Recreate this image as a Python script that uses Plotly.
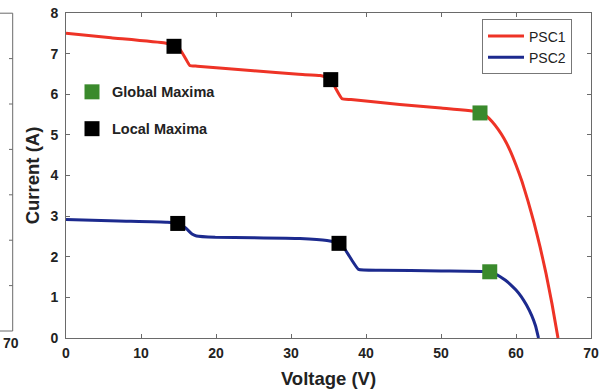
import plotly.graph_objects as go

# ---- data ----
psc1_v = [0, 6.0, 13.2, 14.4, 15.2, 16.0, 16.5, 17.5, 25.0, 31.0, 33.9, 35.3, 36.0, 36.8, 38.0, 44.5, 50.0,
          55.2, 56.0, 56.8, 57.6, 58.4, 59.2, 60.0, 60.8, 61.6, 62.4, 63.2, 64.0, 64.8, 65.6]
psc1_i = [7.50, 7.39, 7.26, 7.20, 7.10, 6.86, 6.71, 6.69, 6.58, 6.49, 6.46, 6.38, 6.13, 5.89, 5.87, 5.75, 5.66,
          5.56, 5.47, 5.33, 5.14, 4.91, 4.62, 4.26, 3.85, 3.37, 2.84, 2.25, 1.59, 0.84, 0.0]

psc2_v = [0, 7.0, 13.5, 14.9, 16.0, 16.8, 17.4, 19.9, 25.0, 31.2, 34.8, 36.4, 37.2, 38.1, 39.0, 41.9, 50.0,
          56.5, 57.2, 57.9, 58.6, 59.3, 60.0, 60.7, 61.4, 62.1, 62.6, 63.0]
psc2_i = [2.92, 2.88, 2.85, 2.82, 2.70, 2.56, 2.51, 2.48, 2.47, 2.45, 2.40, 2.33, 2.18, 1.92, 1.69, 1.67, 1.65,
          1.63, 1.58, 1.51, 1.42, 1.31, 1.18, 1.02, 0.81, 0.55, 0.30, 0.0]

global_v = [55.2, 56.5]
global_i = [5.54, 1.63]
local_v = [14.4, 35.3, 14.9, 36.4]
local_i = [7.18, 6.36, 2.82, 2.33]

x_ticks = [0, 10, 20, 30, 40, 50, 60, 70]
y_ticks = [0, 1, 2, 3, 4, 5, 6, 7, 8]

RED = "#ee3326"
BLUE = "#1c2a8e"
GREEN = "#3a8a2c"
FONT = "Arial, Liberation Sans, Helvetica, sans-serif"
TXT = "#222222"
AX = "#6a6a6a"

W, H = 614, 390
ML, MR, MT, MB = 66, 23, 12.5, 52
PW, PH = W - ML - MR, H - MT - MB


def px(x):
    return (x - ML) / PW


def py(y):
    return (H - MB - y) / PH


fig = go.Figure()
fig.add_trace(go.Scatter(x=psc1_v, y=psc1_i, mode="lines", name="PSC1",
                         line=dict(color=RED, width=3, shape="spline", smoothing=0.4),
                         legend="legend"))
fig.add_trace(go.Scatter(x=psc2_v, y=psc2_i, mode="lines", name="PSC2",
                         line=dict(color=BLUE, width=3, shape="spline", smoothing=0.4),
                         legend="legend"))
fig.add_trace(go.Scatter(x=global_v, y=global_i, mode="markers", name="Global Maxima",
                         marker=dict(symbol="square", size=15, color=GREEN),
                         legend="legend2", legendgroup="g"))
fig.add_trace(go.Scatter(x=local_v, y=local_i, mode="markers", name="Local Maxima",
                         marker=dict(symbol="square", size=15, color="black"),
                         legend="legend2", legendgroup="l"))

axis_common = dict(showline=True, linecolor=AX, linewidth=1, mirror="ticks",
                   ticks="inside", ticklen=4, tickcolor=AX, showgrid=False,
                   zeroline=False, automargin=False,
                   tickfont=dict(family=FONT, size=14, color=TXT, weight="bold"))

fig.update_xaxes(range=[0, 70], tickvals=x_ticks, ticklabelstandoff=2, **axis_common,
                 title=dict(text="Voltage (V)", standoff=12,
                            font=dict(family=FONT, size=18.5, color=TXT, weight="bold")))
fig.update_yaxes(range=[0, 8], tickvals=y_ticks, ticklabelstandoff=4, **axis_common,
                 title=dict(text="Current (A)", standoff=5,
                            font=dict(family=FONT, size=18.5, color=TXT, weight="bold")))

# fragment of the neighbouring panel at the left edge
shapes = []
lx = px(12.7)
shapes.append(dict(type="line", xref="paper", yref="paper", x0=lx, x1=lx,
                   y0=py(331), y1=py(12.7), line=dict(color=AX, width=1)))
shapes.append(dict(type="line", xref="paper", yref="paper", x0=px(0), x1=lx,
                   y0=py(12.7), y1=py(12.7), line=dict(color=AX, width=1)))
shapes.append(dict(type="line", xref="paper", yref="paper", x0=px(0), x1=lx,
                   y0=py(331), y1=py(331), line=dict(color=AX, width=1)))
for k in range(1, 7):
    yy = 12.7 + k * (331 - 12.7) / 7
    shapes.append(dict(type="line", xref="paper", yref="paper", x0=px(9), x1=lx,
                       y0=py(yy), y1=py(yy), line=dict(color=AX, width=1)))

fig.update_layout(
    width=W, height=H,
    margin=dict(l=ML, r=MR, t=MT, b=MB, autoexpand=False),
    paper_bgcolor="white", plot_bgcolor="white",
    shapes=shapes,
    annotations=[dict(text="70", xref="paper", yref="paper", x=px(11), y=py(343),
                      xanchor="center", yanchor="middle", showarrow=False,
                      font=dict(family=FONT, size=14, color=TXT, weight="bold"))],
    legend=dict(x=px(572), y=py(19), xanchor="right", yanchor="top",
                bgcolor="white", bordercolor="#777777", borderwidth=1,
                font=dict(family=FONT, size=14, color=TXT),
                itemwidth=36, tracegroupgap=0),
    legend2=dict(x=px(72), y=py(75.5), xanchor="left", yanchor="top",
                 bgcolor="rgba(0,0,0,0)", borderwidth=0,
                 font=dict(family=FONT, size=14.5, color=TXT, weight="bold"),
                 traceorder="grouped", tracegroupgap=15, itemsizing="trace"),
)

fig.write_html("out.html")
